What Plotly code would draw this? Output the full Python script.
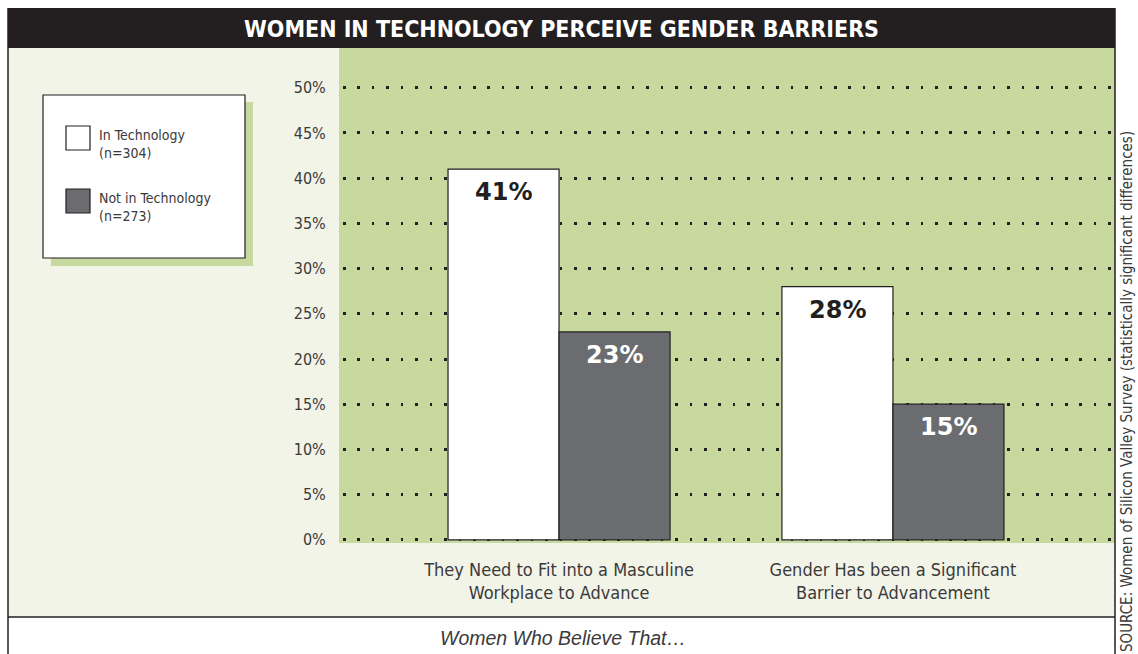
import plotly.graph_objects as go

# --- data ---
categories = [
    "They Need to Fit into a Masculine<br>Workplace to Advance",
    "Gender Has been a Significant<br>Barrier to Advancement",
]
in_tech = [41, 28]
not_in_tech = [23, 15]
series_names = ["In Technology", "Not in Technology"]
series_counts = ["(n=304)", "(n=273)"]
y_ticks = [0, 5, 10, 15, 20, 25, 30, 35, 40, 45, 50]
y_ticktext = [f"{v}%" for v in y_ticks]

TITLE = "WOMEN IN TECHNOLOGY PERCEIVE GENDER BARRIERS"
SUBTITLE = "Women Who Believe That…"
SOURCE = "SOURCE: Women of Silicon Valley Survey (statistically significant differences)"

W, H = 1138, 654
# plot area in pixels
L, R, T, B = 339, 1115, 48, 543

DARK = "#231f20"
GREEN = "#c8d9a0"
CREAM = "#f3f4e8"
GRAY = "#6b6c70"
TEXT = "#3a3a3a"
NARROW = "DejaVu Sans Condensed, Roboto, sans-serif"


def px(x):
    return (x - L) / (R - L)


def py(y):
    return (B - y) / (B - T)


fig = go.Figure()
xs = list(range(len(categories)))
fig.add_trace(go.Bar(x=xs, y=in_tech, name=series_names[0],
                     marker=dict(color="white", line=dict(color=DARK, width=1.2))))
fig.add_trace(go.Bar(x=xs, y=not_in_tech, name=series_names[1],
                     marker=dict(color=GRAY, line=dict(color=DARK, width=1.2))))

gap = 0.335
half = (1 - gap) / 4
ann = []
for i in xs:
    ann.append(dict(x=i - half, y=in_tech[i], text=f"<b>{in_tech[i]}%</b>", showarrow=False,
                    xanchor="center", yanchor="top", yshift=-7,
                    font=dict(family="DejaVu Sans", size=24, color=DARK)))
    ann.append(dict(x=i + half, y=not_in_tech[i], text=f"<b>{not_in_tech[i]}%</b>", showarrow=False,
                    xanchor="center", yanchor="top", yshift=-7,
                    font=dict(family="DejaVu Sans", size=24, color="white")))

shapes = [
    # cream panel, green plot panel, title bar
    dict(type="rect", xref="paper", yref="paper", x0=px(8), x1=px(1115), y0=py(617), y1=py(48),
         fillcolor=CREAM, line_width=0, layer="below"),
    dict(type="rect", xref="paper", yref="paper", x0=0, x1=1, y0=0, y1=1,
         fillcolor=GREEN, line_width=0, layer="below"),
    dict(type="rect", xref="paper", yref="paper", x0=px(8), x1=px(1115), y0=py(48), y1=py(8),
         fillcolor=DARK, line_width=0, layer="below"),
    # frame lines
    dict(type="line", xref="paper", yref="paper", x0=px(8), x1=px(8), y0=py(654), y1=py(8),
         line=dict(color=DARK, width=1.5)),
    dict(type="line", xref="paper", yref="paper", x0=px(1115), x1=px(1115), y0=py(654), y1=py(8),
         line=dict(color=DARK, width=1.5)),
    dict(type="line", xref="paper", yref="paper", x0=px(8), x1=px(1115), y0=py(617), y1=py(617),
         line=dict(color=DARK, width=1.5)),
    # legend box with green shadow
    dict(type="rect", xref="paper", yref="paper", x0=px(51), x1=px(253), y0=py(266), y1=py(102),
         fillcolor=GREEN, line_width=0),
    dict(type="rect", xref="paper", yref="paper", x0=px(43), x1=px(245), y0=py(258), y1=py(95),
         fillcolor="white", line=dict(color=DARK, width=1.2)),
    dict(type="rect", xref="paper", yref="paper", x0=px(66), x1=px(90), y0=py(150), y1=py(126),
         fillcolor="white", line=dict(color=DARK, width=1.2)),
    dict(type="rect", xref="paper", yref="paper", x0=px(66), x1=px(90), y0=py(213), y1=py(189),
         fillcolor=GRAY, line=dict(color=DARK, width=1.2)),
]

legend_y = [135, 198]
for k in range(2):
    ann.append(dict(xref="paper", yref="paper", x=px(97), y=py(legend_y[k]), xanchor="left", yanchor="middle",
                    text=series_names[k], showarrow=False, font=dict(family=NARROW, size=14, color=TEXT)))
    ann.append(dict(xref="paper", yref="paper", x=px(97), y=py(legend_y[k] + 18), xanchor="left", yanchor="middle",
                    text=series_counts[k], showarrow=False, font=dict(family=NARROW, size=14, color=TEXT)))

ann.append(dict(xref="paper", yref="paper", x=px(561), y=py(29), text=f"<b>{TITLE}</b>", showarrow=False,
                xanchor="center", yanchor="middle", font=dict(family=NARROW, size=23, color="white")))
ann.append(dict(xref="paper", yref="paper", x=px(563), y=py(638), text=f"<i>{SUBTITLE}</i>", showarrow=False,
                xanchor="center", yanchor="middle", font=dict(family="Liberation Sans", size=19.5, color=TEXT)))
ann.append(dict(xref="paper", yref="paper", x=px(1127), y=py(392), text=SOURCE, textangle=-90, showarrow=False,
                xanchor="center", yanchor="middle", font=dict(family=NARROW, size=15, color=TEXT)))

fig.update_layout(
    width=W, height=H,
    margin=dict(l=L, r=W - R, t=T, b=H - B, pad=0),
    paper_bgcolor="white", plot_bgcolor=GREEN,
    barmode="group", bargap=gap, bargroupgap=0,
    showlegend=False,
    shapes=shapes, annotations=ann,
    font=dict(family=NARROW, color=TEXT),
    xaxis=dict(range=[-0.659, 1.665], tickvals=xs, ticktext=categories, showgrid=False, zeroline=False,
               ticks="outside", ticklen=10, tickcolor="rgba(0,0,0,0)", tickfont=dict(size=18, color=TEXT),
               fixedrange=True),
    yaxis=dict(range=[-0.35, 54.4], tickvals=y_ticks, ticktext=y_ticktext, showgrid=True, gridcolor=DARK,
               gridwidth=2.6, griddash="0px,4px,2.6px,7.84px", zeroline=False,
               ticks="outside", ticklen=9, tickcolor="rgba(0,0,0,0)", tickfont=dict(size=16, color=TEXT),
               fixedrange=True),
)

fig.write_html("out.html", config={"displayModeBar": False},
               post_script="document.body.style.margin='0';")
